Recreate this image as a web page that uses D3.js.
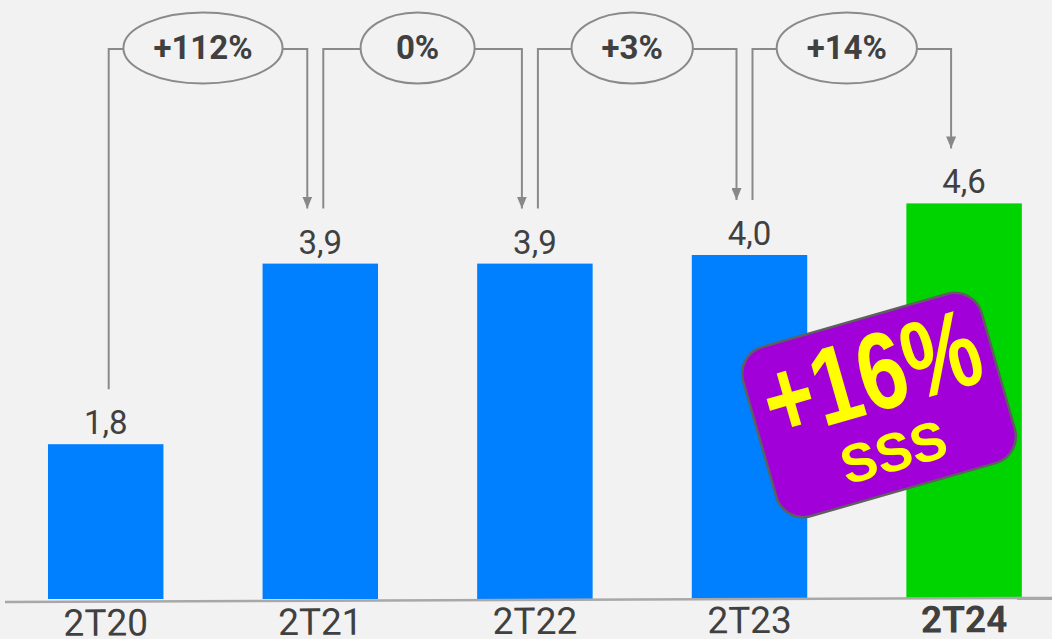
<!DOCTYPE html>
<html><head><meta charset="utf-8">
<script src="https://cdn.jsdelivr.net/npm/d3@7/dist/d3.min.js"></script>
<style>html,body{margin:0;padding:0;background:#f2f2f2;overflow:hidden}</style>
</head><body><svg id="chart" width="1052" height="639"></svg>
<script>
const categories = ["2T20", "2T21", "2T22", "2T23", "2T24"];
const values = [1.8, 3.9, 3.9, 4.0, 4.6];
const valueLabels = ["1,8", "3,9", "3,9", "4,0", "4,6"];
const growthLabels = ["+112%", "0%", "+3%", "+14%"];
const highlightCategory = "2T24";
const badgeMain = "+16%";
const badgeSub = "SSS";

const W = 1052, H = 639;
const svg = d3.select("#chart");
svg.append("rect").attr("width", W).attr("height", H).attr("fill", "#f2f2f2");

const x = d3.scaleBand().domain(categories).range([-1.6, 1071.4]).paddingInner(0.462).paddingOuter(0.231);
const y = d3.scaleLinear().domain([0, 5]).range([599, 599 - 5 * 86]);
const bw = x.bandwidth();
const cx = c => x(c) + bw / 2;

const defs = svg.append("defs");
defs.append("marker").attr("id", "arr").attr("viewBox", "0 0 12 10")
  .attr("markerWidth", 12).attr("markerHeight", 10).attr("markerUnits", "userSpaceOnUse")
  .attr("refX", 12).attr("refY", 5).attr("orient", "auto")
  .append("path").attr("d", "M0,0L12,5L0,10Z").attr("fill", "#888");

// bars
svg.append("g").selectAll("rect").data(categories).join("rect")
  .attr("x", d => x(d)).attr("width", bw)
  .attr("y", (d, i) => y(values[i])).attr("height", (d, i) => y(0) - y(values[i]))
  .attr("fill", d => d === highlightCategory ? "#00d400" : "#007fff");

// value labels
svg.append("g").selectAll("text").data(categories).join("text")
  .attr("x", d => cx(d)).attr("y", (d, i) => y(values[i]) - 10)
  .attr("text-anchor", "middle").attr("font-family", "Roboto, sans-serif")
  .attr("font-size", 33).attr("fill", "#404040").text((d, i) => valueLabels[i]);

// axis
const axG = svg.append("g").attr("transform", "translate(0,602) rotate(-0.22)");
axG.call(d3.axisBottom(x).tickSize(0)).call(g => g.select(".domain").remove());
axG.selectAll(".tick text").attr("y", 34).attr("dy", 0)
  .attr("font-family", "Roboto, sans-serif").attr("font-size", 37).attr("fill", "#404040")
  .attr("font-weight", d => d === highlightCategory ? "bold" : "normal");
axG.append("line").attr("x1", 5).attr("x2", W).attr("y1", 0).attr("y2", 0)
  .attr("stroke", "#a8a8a8").attr("stroke-width", 2.5);

// growth connectors
const cyE = 48, gap = 55;
const ann = svg.append("g");
growthLabels.forEach((lab, i) => {
  const a = categories[i], b = categories[i + 1];
  const ecx = (cx(a) + cx(b)) / 2 - 10;
  const g = ann.append("g");
  const t = g.append("text").attr("x", ecx).attr("y", cyE + 11).attr("text-anchor", "middle")
    .attr("font-family", "Roboto, sans-serif").attr("font-weight", "bold").attr("font-size", 33)
    .attr("fill", "#404040").text(lab);
  const tw = t.node().getBBox().width;
  const rx = Math.max(57, tw / 2 + 30), ry = 35.5;
  g.insert("ellipse", "text").attr("cx", ecx).attr("cy", cyE).attr("rx", rx).attr("ry", ry)
    .attr("fill", "#f2f2f2").attr("stroke", "#8a8a8a").attr("stroke-width", 2);
  const lx = cx(a) + 3, ax = cx(b) - 13;
  g.append("path").attr("fill", "none").attr("stroke", "#8a8a8a").attr("stroke-width", 2)
    .attr("d", `M${lx},${y(values[i]) - gap}V${cyE + 1}H${ecx - rx}`);
  g.append("path").attr("fill", "none").attr("stroke", "#8a8a8a").attr("stroke-width", 2)
    .attr("marker-end", "url(#arr)")
    .attr("d", `M${ecx + rx},${cyE + 1}H${ax}V${y(values[i + 1]) - gap}`);
});

// badge
const badge = svg.append("g").attr("transform", "translate(879,405) rotate(-16)");
badge.append("rect").attr("x", -124).attr("y", -88).attr("width", 248).attr("height", 176)
  .attr("rx", 28).attr("fill", "#a100d8").attr("stroke", "#5f5f5f").attr("stroke-width", 2.5);
badge.append("text").attr("transform", "translate(1,6) scale(0.78,1)").attr("text-anchor", "middle")
  .attr("font-family", "'Liberation Sans', Arial, sans-serif").attr("font-weight", "bold")
  .attr("font-size", 110).attr("fill", "#ffff00").text(badgeMain);
badge.append("text").attr("x", 1).attr("y", 68).attr("text-anchor", "middle")
  .attr("font-family", "'Liberation Sans', Arial, sans-serif").attr("font-weight", "bold")
  .attr("font-size", 54).attr("fill", "#ffff00").text(badgeSub);
</script></body></html>
